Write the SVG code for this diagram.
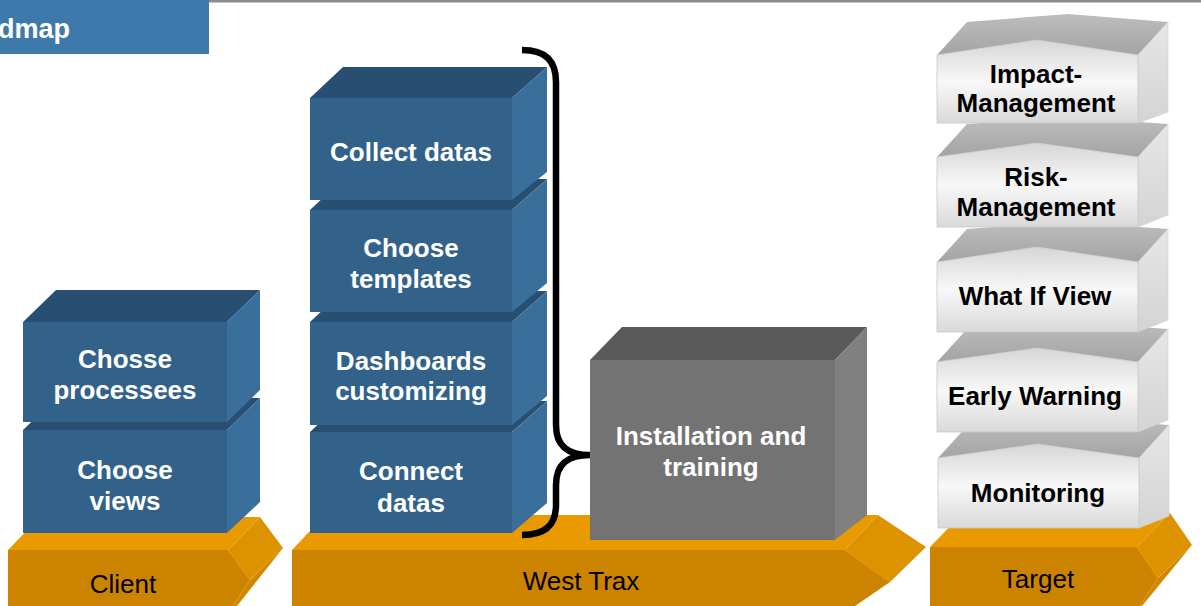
<svg xmlns="http://www.w3.org/2000/svg" width="1201" height="606" viewBox="0 0 1201 606">
<defs>
<style>
.bt{font-family:"Liberation Sans",Arial,sans-serif;font-weight:bold;font-size:26px;text-anchor:middle;fill:#ffffff}
.wt{font-family:"Liberation Sans",Arial,sans-serif;font-weight:bold;font-size:26px;text-anchor:middle;fill:#000000}
.ot{font-family:"Liberation Sans",Arial,sans-serif;font-size:26px;text-anchor:middle;fill:#000000}
.bf{fill:#32628a}
.btop{fill:#284f72}
.bside{fill:#3a6f9b}
.gf{fill:#737373}
.gtop{fill:#5a5a5a}
.gside{fill:#808080}
.otop{fill:#e99a00}
.ofront{fill:#cc8400}
.otip{fill:#dd9300}
.olow{fill:#d18800}
.wf{fill:url(#wfront);stroke:#c8c8c8;stroke-width:0.8}
.wtop{fill:url(#wtopg)}
.wside{fill:url(#wsideg);stroke:#d0d0d0;stroke-width:0.6}
</style>
<linearGradient id="wfront" x1="0" y1="0" x2="0" y2="1">
<stop offset="0" stop-color="#d6d6d6"/>
<stop offset="0.5" stop-color="#f8f8f8"/>
<stop offset="1" stop-color="#d9d9d9"/>
</linearGradient>
<linearGradient id="wtopg" x1="0" y1="1" x2="0" y2="0">
<stop offset="0" stop-color="#a4a4a4"/>
<stop offset="1" stop-color="#bdbdbd"/>
</linearGradient>
<linearGradient id="wsideg" x1="0" y1="0" x2="0" y2="1">
<stop offset="0" stop-color="#e6e6e6"/>
<stop offset="1" stop-color="#d4d4d4"/>
</linearGradient>
</defs>
<rect x="0" y="0" width="1201" height="606" fill="#ffffff"/>

<g id="header">
<rect x="209" y="0" width="992" height="2.5" fill="#8c8c8c"/>
<rect x="0" y="0" width="209" height="54" fill="#3e79ab"/>
<text x="-2" y="38" style="font-family:'Liberation Sans',Arial,sans-serif;font-weight:bold;font-size:27px;fill:#ffffff">dmap</text>
</g>

<g id="base-client">
<polygon class="otop" points="8,550 40,517 260,517 228,550"/>
<polygon class="olow" points="250,580 283,548 237,606 233,606"/>
<polygon class="otip" points="228,550 260,517 283,548 250,580"/>
<polygon class="ofront" points="8,550 228,550 250,580 233,606 8,606"/>
<line x1="228" y1="550" x2="250" y2="580" stroke="#e39600" stroke-width="1.2"/>
<text class="ot" x="123" y="593">Client</text>
</g>

<g id="base-westtrax">
<polygon class="otop" points="292,550 325,515 878,515 845,550"/>
<polygon class="otip" points="845,550 878,515 926,547 890,582"/>
<polygon class="ofront" points="292,550 845,550 890,582 855,606 292,606"/>
<line x1="845" y1="550" x2="890" y2="582" stroke="#e39600" stroke-width="1.2"/>
<text class="ot" x="581" y="590">West Trax</text>
</g>

<g id="base-target">
<polygon class="otop" points="930,547 963,513 1170,513 1137,547"/>
<polygon class="olow" points="1158,578 1192,545 1142,606 1140,606"/>
<polygon class="otip" points="1137,547 1170,513 1192,545 1158,578"/>
<polygon class="ofront" points="930,547 1137,547 1158,578 1140,606 930,606"/>
<line x1="1137" y1="547" x2="1158" y2="578" stroke="#e39600" stroke-width="1.2"/>
<text class="ot" x="1038" y="588">Target</text>
</g>

<g id="choose-views">
<polygon class="btop" points="23,430 56,398 260,398 227,430"/>
<polygon class="bside" points="227,430 260,398 260,502 227,533"/>
<rect class="bf" x="23" y="430" width="204" height="103"/>
<text class="bt" x="125" y="479">Choose</text>
<text class="bt" x="125" y="510">views</text>
</g>

<g id="chosse-processees">
<polygon class="btop" points="23,322 56,290 260,290 227,322"/>
<polygon class="bside" points="227,322 260,290 260,390 227,422"/>
<rect class="bf" x="23" y="322" width="204" height="100"/>
<text class="bt" x="125" y="368">Chosse</text>
<text class="bt" x="125" y="399">processees</text>
</g>

<g id="connect-datas">
<polygon class="btop" points="310,432 343,401 547,401 512,432"/>
<polygon class="bside" points="512,432 547,401 547,503 512,533"/>
<rect class="bf" x="310" y="432" width="202" height="101"/>
<text class="bt" x="411" y="480">Connect</text>
<text class="bt" x="411" y="512">datas</text>
</g>

<g id="dashboards-customizing">
<polygon class="btop" points="310,322 343,291 547,291 512,322"/>
<polygon class="bside" points="512,322 547,291 547,396 512,425"/>
<rect class="bf" x="310" y="322" width="202" height="103"/>
<text class="bt" x="411" y="370">Dashboards</text>
<text class="bt" x="411" y="400">customizing</text>
</g>

<g id="choose-templates">
<polygon class="btop" points="310,210 343,179 547,179 512,210"/>
<polygon class="bside" points="512,210 547,179 547,283 512,312"/>
<rect class="bf" x="310" y="210" width="202" height="102"/>
<text class="bt" x="411" y="257">Choose</text>
<text class="bt" x="411" y="288">templates</text>
</g>

<g id="collect-datas">
<polygon class="btop" points="310,98 343,67 547,67 512,98"/>
<polygon class="bside" points="512,98 547,67 547,172 512,200"/>
<rect class="bf" x="310" y="98" width="202" height="102"/>
<text class="bt" x="411" y="161">Collect datas</text>
</g>

<g id="installation-training">
<polygon class="gtop" points="590,360 622,327 867,327 835,360"/>
<polygon class="gside" points="835,360 867,327 867,515 835,540"/>
<rect class="gf" x="590" y="360" width="245" height="180"/>
<text class="bt" x="711" y="445">Installation and</text>
<text class="bt" x="711" y="476">training</text>
</g>

<g id="monitoring">
<polygon class="wtop" points="938,458 968,425 1069,418 1169,425 1139,458 1038,444"/>
<polygon class="wside" points="1139,458 1169,425 1169,516 1139,528"/>
<polygon class="wf" points="938,458 1038,444 1139,458 1139,528 938,528"/>
<text class="wt" x="1038" y="502">Monitoring</text>
</g>

<g id="early-warning">
<polygon class="wtop" points="937,362 967,329 1068,322 1168,329 1138,362 1037,348"/>
<polygon class="wside" points="1138,362 1168,329 1168,420 1138,432"/>
<polygon class="wf" points="937,362 1037,348 1138,362 1138,432 937,432"/>
<text class="wt" x="1035" y="405">Early Warning</text>
</g>

<g id="what-if-view">
<polygon class="wtop" points="937,262 967,229 1068,222 1168,229 1138,262 1037,247"/>
<polygon class="wside" points="1138,262 1168,229 1168,320 1138,332"/>
<polygon class="wf" points="937,262 1037,247 1138,262 1138,332 937,332"/>
<text class="wt" x="1035" y="305">What If View</text>
</g>

<g id="risk-management">
<polygon class="wtop" points="937,157 967,124 1068,117 1168,124 1138,157 1037,143"/>
<polygon class="wside" points="1138,157 1168,124 1168,215 1138,227"/>
<polygon class="wf" points="937,157 1037,143 1138,157 1138,227 937,227"/>
<text class="wt" x="1036" y="186">Risk-</text>
<text class="wt" x="1036" y="216">Management</text>
</g>

<g id="impact-management">
<polygon class="wtop" points="937,55 967,22 1068,14 1168,22 1138,55 1037,40"/>
<polygon class="wside" points="1138,55 1168,22 1168,112 1138,123"/>
<polygon class="wf" points="937,55 1037,40 1138,55 1138,123 937,123"/>
<text class="wt" x="1036" y="83">Impact-</text>
<text class="wt" x="1036" y="112">Management</text>
</g>

<g id="connectors">
<path d="M522,50 C545,50 556,60 556,82 L556,425 C556,446 568,455 590,455 C568,455 556,464 556,485 L556,505 C556,525 545,535 522,535" fill="none" stroke="#000000" stroke-width="6.5" stroke-linecap="butt"/>
</g>
</svg>
